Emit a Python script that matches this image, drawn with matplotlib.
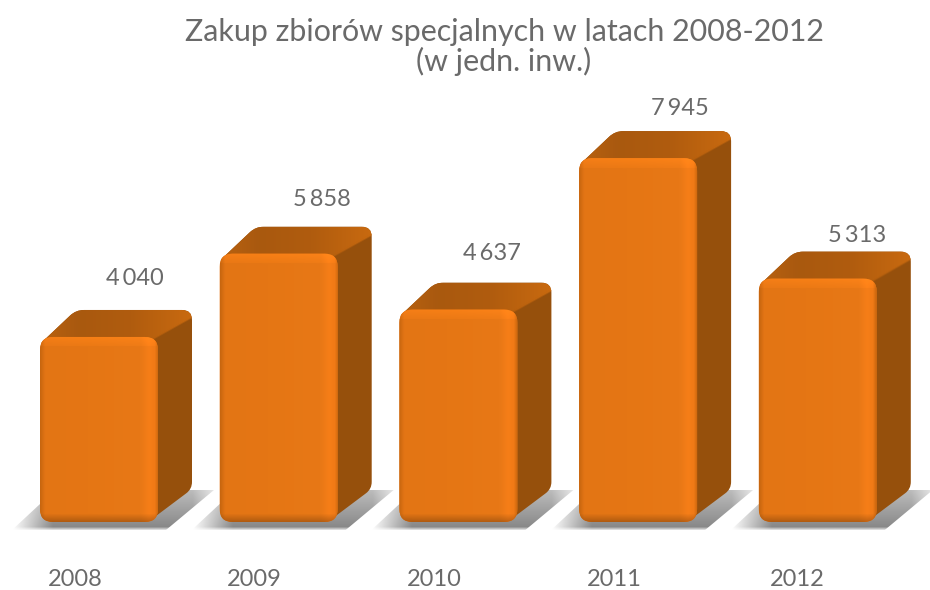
import numpy as np
from matplotlib import pyplot as plt
from matplotlib.patches import PathPatch, Polygon
from matplotlib.path import Path
from matplotlib.colors import to_rgb

years = ["2008", "2009", "2010", "2011", "2012"]
values = [4040, 5858, 4637, 7945, 5313]
title = "Zakup zbiorów specjalnych w latach 2008-2012\n(w jedn. inw.)"

# pixels of the reference
W, H = 930, 590
STEP = 179.7      # px between bars
CENTER0 = 99      # px of first bar centre
BASE = 522        # px of baseline
PX_PER_UNIT = 0.0458
HALF = 59
DX, DY = 34, 27

# small per-label nudges, the labels are not evenly placed
label_dx = [36, 43, 34, 42, 39]
label_dy = [31, 27, 29, 23, 16]
year_dx = [-24, -24, -24, -24, -21]

plt.rcParams['font.family'] = ['Lato', 'DejaVu Sans']
TEXT = "#6a6a6a"

fig = plt.figure(figsize=(W / 100, H / 100), dpi=100)
ax = fig.add_axes([0, 0, 1, 1])
ax.axis("off")
xu = 1 / STEP
yu = 1 / PX_PER_UNIT


def gradient(colors, pos, n=200):
    rgb = np.array([to_rgb(c) for c in colors])
    t = np.linspace(0, 1, n)
    return np.stack([np.interp(t, pos, rgb[:, k]) for k in range(3)], axis=1)


def rounded(pts, r):
    # closed polygon with corners cut by quadratic curves, r in px
    pts = np.array(pts) / [xu, yu]
    verts, codes = [], []
    n = len(pts)
    for k in range(n):
        p, a, b = pts[k], pts[k - 1], pts[(k + 1) % n]
        ra = r[k] if np.ndim(r) else r
        s = p + (a - p) / np.linalg.norm(a - p) * ra
        e = p + (b - p) / np.linalg.norm(b - p) * ra
        verts += [s, p, e]
        codes += [Path.LINETO if k else Path.MOVETO, Path.CURVE3, Path.CURVE3]
    verts.append(verts[0])
    codes.append(Path.CLOSEPOLY)
    return Path(np.array(verts) * [xu, yu], codes)


def draw_image(arr, box, clip, z):
    im = ax.imshow(arr, extent=box, aspect="auto", origin="upper", zorder=z,
                   interpolation="bilinear")
    im.set_clip_path(clip)


for i, v in enumerate(values):
    left = i - HALF * xu
    right = i + HALF * xu
    dx = DX * xu
    dy = DY * yu

    # floor shadow
    shadow = Polygon([(left - 28 * xu, -8 * yu), (right + 8 * xu, -8 * yu),
                      (right + 56 * xu, 32 * yu), (right + 20 * xu, 32 * yu),
                      (left, 18 * yu)],
                     closed=True, fc="none", ec="none", zorder=1)
    ax.add_patch(shadow)
    fx = np.clip(np.linspace(0, 1, 200) * 5, 0, 1)
    fx = fx * np.clip((1 - np.linspace(0, 1, 200)) * 6 + 0.35, 0, 1)
    fy = np.clip(np.linspace(0.55, 1.0, 40), 0, 1)
    fy[-3:] = [0.8, 0.55, 0.3]
    arr = np.ones((40, 200, 4)) * 0.52
    arr[..., 3] = fx[None, :] * fy[:, None]
    draw_image(arr, (left - 28 * xu, right + 56 * xu, -8 * yu, 32 * yu), shadow, 1)

    # whole back silhouette in the side colour
    body = PathPatch(rounded([(right - 10 * xu, 0), (right + dx, dy + 6 * yu),
                              (right + dx, v + dy), (left + dx + 2 * xu, v + dy),
                              (left, v - 7 * yu), (right - 10 * xu, v - 7 * yu)],
                             [6, 7, 10, 8, 4, 4]),
                     fc="#96500C", ec="none", zorder=2)
    ax.add_patch(body)

    # top face: gradient, fading out under the ridge towards the side face
    nx, ny = 2 * HALF + DX, DY + 9
    tc = gradient(["#B96210", "#A9590F", "#B05C0E", "#C96A10"], [0, 0.25, 0.6, 1], nx)
    arr = np.ones((ny, nx, 4))
    arr[..., :3] = tc[None, :, :]
    px = np.arange(nx)[None, :] - 2 * HALF
    py = (ny - 1 - np.arange(ny))[:, None] - 9
    # py above the ridge running from the front right corner to the back right corner
    ridge = px * (DY - 8) / DX
    arr[..., 3] = np.clip((py - ridge) / 2 + 0.5, 0, 1)
    draw_image(arr, (left, right + dx, v - 9 * yu, v + dy), body, 3)

    # front face, rounded, with lit edges
    front = PathPatch(rounded([(left, 0), (right, 0), (right, v), (left, v)], 13),
                      fc="#E57614", ec="none", zorder=5)
    ax.add_patch(front)
    w_px = 2 * HALF
    h_px = int(v * PX_PER_UNIT)
    row = gradient(["#C8660F", "#E37515", "#E57614", "#E87816", "#F67E18", "#F07A16", "#C8660F"],
                   [0, 0.04, 0.4, 0.85, 0.92, 0.97, 1], w_px)
    col = np.ones(h_px)
    col[:10] = np.linspace(1.08, 1.03, 10)
    col[-9:] = np.linspace(1.0, 0.78, 9)
    arr = np.clip(row[None, :, :] * col[:, None, None], 0, 1)
    draw_image(arr, (left, right, 0, v), front, 6)

    # value and year labels
    ax.annotate(f"{v:,}".replace(",", "\u2009"), (i, v), xytext=(label_dx[i], label_dy[i] + DY),
                textcoords="offset pixels", ha="center", va="center",
                fontsize=17, color=TEXT, zorder=7)
    ax.annotate(years[i], (i, 0), xytext=(year_dx[i], -58), textcoords="offset pixels",
                ha="center", va="center", fontsize=17, color=TEXT)

ax.set_xlim(-CENTER0 / STEP, (W - CENTER0) / STEP)
ax.set_ylim(-(H - BASE) / PX_PER_UNIT, BASE / PX_PER_UNIT)

fig.text(504 / W, 1 - 47 / H, title, ha="center", va="center", fontsize=21.9,
         color=TEXT, linespacing=1.05)

fig.savefig("out.png", dpi=100, facecolor="white")
